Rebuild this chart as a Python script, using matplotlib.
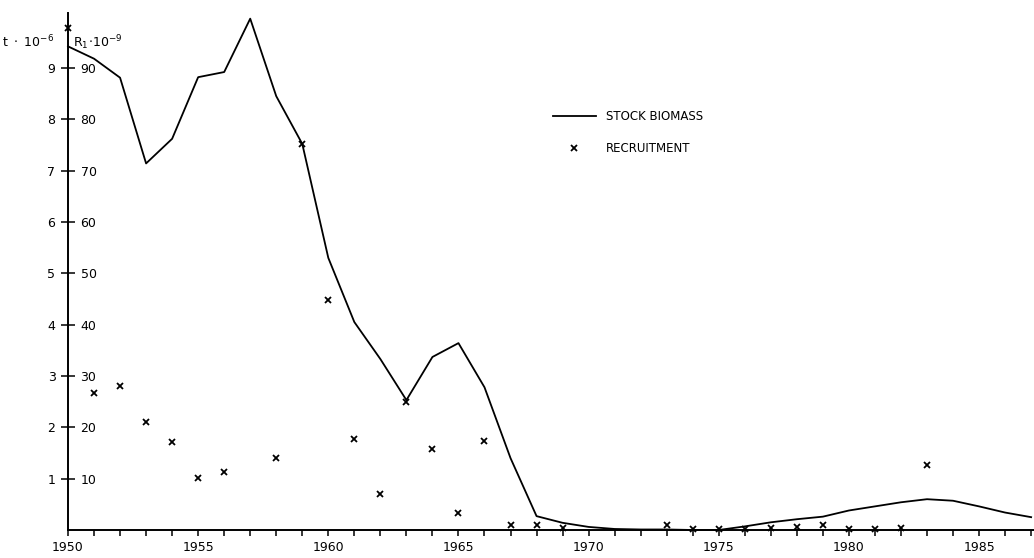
import numpy as np
import matplotlib
matplotlib.use("Agg")
import matplotlib.pyplot as plt
from matplotlib.lines import Line2D

# stock biomass, t * 10^-6 (left scale)
years = list(range(1950, 1988))
biomass = [9.42, 9.18, 8.81, 7.14, 7.62, 8.82, 8.92, 9.96, 8.45, 7.52,
           5.30, 4.05, 3.33, 2.53, 3.37, 3.64, 2.78, 1.40, 0.27, 0.14,
           0.06, 0.02, 0.01, 0.01, 0.0, 0.0, 0.07, 0.15, 0.21, 0.26,
           0.38, 0.46, 0.54, 0.60, 0.57, 0.46, 0.34, 0.25]

# recruitment, R1 * 10^-9 (inner right-hand scale)
rec_years = [1950, 1951, 1952, 1953, 1954, 1955, 1956, 1958, 1959, 1960,
             1961, 1962, 1963, 1964, 1965, 1966, 1967, 1968, 1969, 1973,
             1974, 1975, 1976, 1977, 1978, 1979, 1980, 1981, 1982, 1983]
recruitment = [97.8, 26.7, 28.1, 21.1, 17.2, 10.1, 11.3, 14.1, 75.1, 44.8,
               17.7, 7.0, 25.0, 15.8, 3.4, 17.3, 1.0, 1.0, 0.3, 1.0,
               0.1, 0.1, 0.2, 0.4, 0.5, 1.0, 0.2, 0.2, 0.4, 12.6]

left_ticks = [1, 2, 3, 4, 5, 6, 7, 8, 9]
x_labels = [1950, 1955, 1960, 1965, 1970, 1975, 1980, 1985]

plt.rcParams['font.family'] = 'DejaVu Sans'
fig = plt.figure(figsize=(10.34, 5.58), dpi=100)
ax = fig.add_axes([68/1034, 28/558, 966/1034, 517/558])

ylo, yhi = 0, 10.07
xlo, xhi = 1950, 1987.11
ax.set_xlim(xlo, xhi)
ax.set_ylim(ylo, yhi)

ax.plot(years, biomass, color='black', lw=1.3, clip_on=False)

ax2 = ax.twinx()
ax2.set_ylim(ylo*10, yhi*10)
ax2.plot(rec_years, recruitment, linestyle='none', marker='x', color='black',
         markersize=4, mew=1.3, clip_on=False)
ax2.set_yticks([])
for s in ax2.spines.values():
    s.set_visible(False)

for s in ['top', 'right']:
    ax.spines[s].set_visible(False)
ax.spines['left'].set_linewidth(1.4)
ax.spines['bottom'].set_linewidth(1.4)

ax.set_xticks(years)
ax.set_xticklabels([str(y) if y in x_labels else '' for y in years])
ax.tick_params(axis='x', direction='out', length=4, width=1.1, pad=4, labelsize=9)
ax.set_yticks(left_ticks)
ax.set_yticklabels([str(t) for t in left_ticks])
ax.tick_params(axis='y', direction='inout', length=10, width=1.1, pad=4, labelsize=9)

sec = ax.secondary_yaxis(0.0, functions=(lambda v: v*10, lambda v: v/10))
sec.set_alignment('right')
sec.set_yticks([t*10 for t in left_ticks])
sec.tick_params(axis='y', length=0, pad=9, labelsize=9)
for s in sec.spines.values():
    s.set_visible(False)

fig.text(2/1034, 1 - 42/558, r'$\mathrm{t\ \cdot\ 10^{-6}}$', fontsize=9, va='center', ha='left')
fig.text(73/1034, 1 - 43/558, r'$\mathrm{R_1\!\cdot\!10^{-9}}$', fontsize=9, va='center', ha='left')

handles = [Line2D([], [], color='black', lw=1.3),
           Line2D([], [], color='black', lw=0, marker='x', markersize=4, mew=1.3)]
ax.legend(handles, ['STOCK BIOMASS', 'RECRUITMENT'], loc='upper left',
          bbox_to_anchor=((553-68)/966, (530-110)/517), frameon=False,
          fontsize=8.5, handlelength=3.6, handletextpad=0.9, labelspacing=1.65,
          borderaxespad=0, borderpad=0)

fig.savefig('out.png', dpi=100)
